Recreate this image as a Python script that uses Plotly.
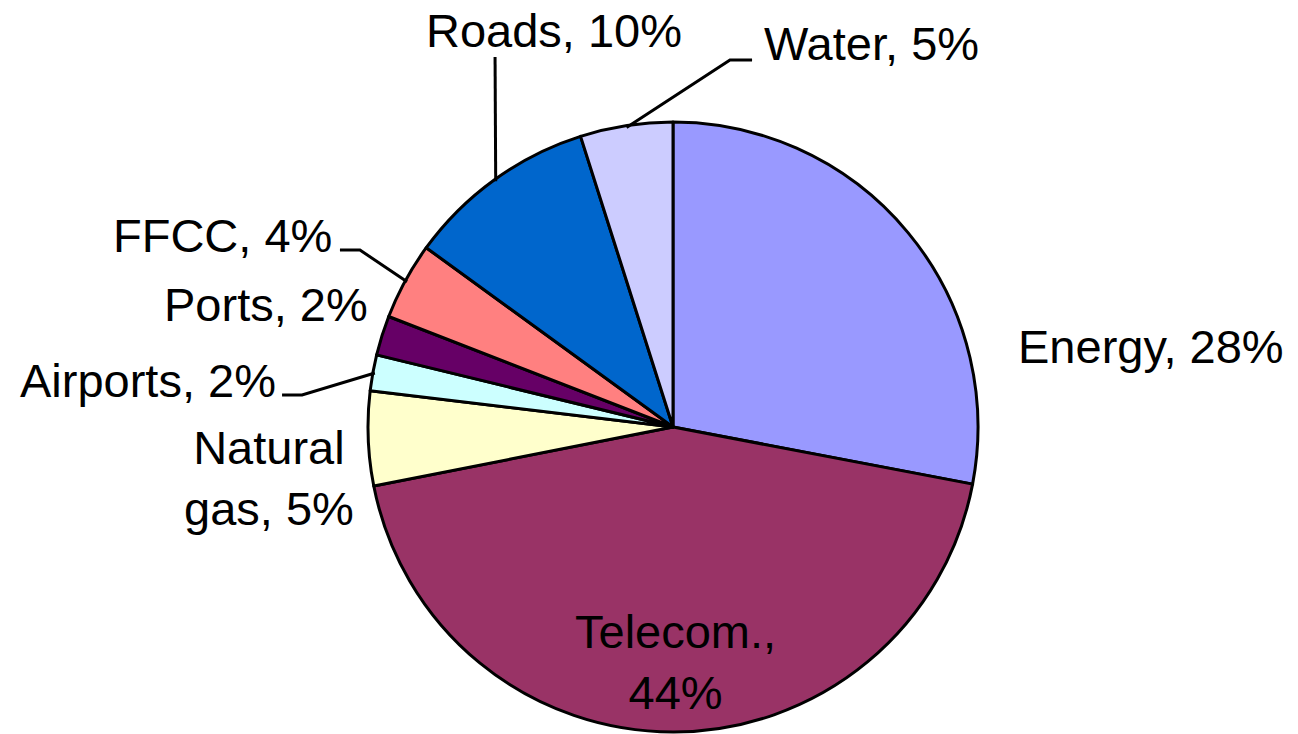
import math
import plotly.graph_objects as go

# ---- data ----
labels = ["Energy", "Telecom.", "Natural gas", "Airports", "Ports", "FFCC", "Roads", "Water"]
values = [28.0, 43.9, 5.0, 1.9, 2.1, 4.1, 10.1, 4.9]
colors = ["#9999FF", "#993366", "#FFFFCC", "#CCFFFF", "#660066", "#FF8080", "#0066CC", "#CCCCFF"]
label_templates = ["Energy, {p}%", "Telecom.,<br>{p}%", "Natural<br>gas, {p}%", "Airports, {p}%",
                   "Ports, {p}%", "FFCC, {p}%", "Roads, {p}%", "Water, {p}%"]

# ---- layout constants (pixels) ----
W, H = 1298, 734
CX, CY, R = 673, 427, 305
FONT = dict(family="Liberation Sans, Arial, sans-serif", size=47, color="black")

# label anchor positions: (x, y of text middle, xanchor)
label_pos = {
    "Energy": (1016, 346, "left"),
    "Telecom.": (675, 662, "center"),
    "Natural gas": (269, 478, "center"),
    "Airports": (278, 380, "right"),
    "Ports": (370, 304, "right"),
    "FFCC": (334, 235, "right"),
    "Roads": (554, 30, "center"),
    "Water": (762, 43, "left"),
}
# leader-line elbow points (pixels), ending at the slice's rim midpoint
leader_elbows = {
    "Roads": [(495, 57)],
    "Water": [(752, 60), (730, 60)],
    "FFCC": [(340, 250), (360, 250)],
    "Airports": [(282, 395), (302, 395)],
}


def px(x, y):
    return x / W, 1 - y / H


fig = go.Figure(go.Pie(
    labels=labels, values=values, sort=False, direction="clockwise", rotation=0,
    marker=dict(colors=colors, line=dict(color="black", width=3)),
    textinfo="none", hoverinfo="label+percent", showlegend=False,
    domain=dict(x=[(CX - R) / W, (CX + R) / W], y=[1 - (CY + R) / H, 1 - (CY - R) / H]),
))

total = sum(values)
annotations = []
shapes = []
cum = 0.0
for lab, v, tmpl in zip(labels, values, label_templates):
    mid = (cum + v / 2) / total
    cum += v
    x, y, xa = label_pos[lab]
    ax, ay = px(x, y)
    annotations.append(dict(text=tmpl.format(p=round(100 * v / total)), x=ax, y=ay,
                            xref="paper", yref="paper", xanchor=xa, yanchor="middle",
                            showarrow=False, font=FONT, align="center"))
    if lab in leader_elbows:
        ang = 2 * math.pi * mid
        rx = CX + (R - 2) * math.sin(ang)
        ry = CY - (R - 2) * math.cos(ang)
        pts = leader_elbows[lab] + [(rx, ry)]
        path = "M " + " L ".join("%.4f,%.4f" % px(a, b) for a, b in pts)
        shapes.append(dict(type="path", path=path, xref="paper", yref="paper",
                           line=dict(color="black", width=3)))

fig.update_layout(
    width=W, height=H, margin=dict(l=0, r=0, t=0, b=0),
    paper_bgcolor="white", plot_bgcolor="white",
    annotations=annotations, shapes=shapes,
)
fig.write_html("out.html", config={"displayModeBar": False},
               post_script="document.body.style.margin='0';")
